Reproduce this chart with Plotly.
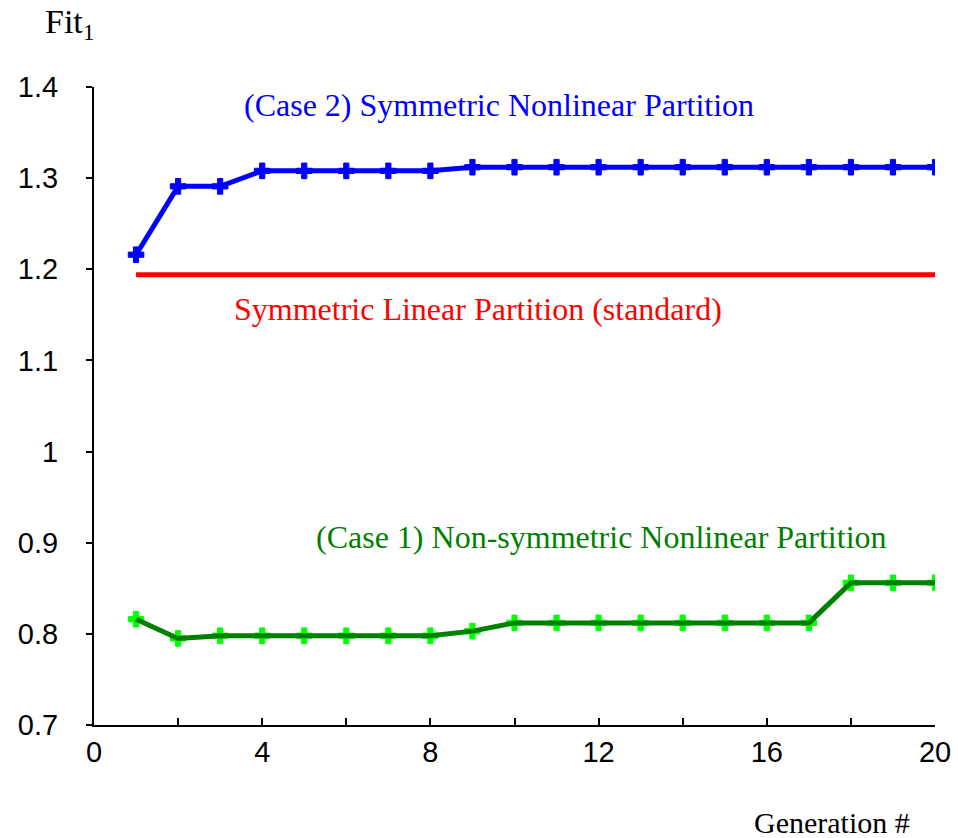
import plotly.graph_objects as go

generations = list(range(1, 21))
case2_sym_nonlinear = [1.216, 1.291, 1.291, 1.308, 1.308, 1.308, 1.308, 1.308, 1.312, 1.312,
                       1.312, 1.312, 1.312, 1.312, 1.312, 1.312, 1.312, 1.312, 1.312, 1.312]
sym_linear_x = [1, 20]
sym_linear_y = [1.194, 1.194]
case1_nonsym_nonlinear = [0.816, 0.795, 0.798, 0.798, 0.798, 0.798, 0.798, 0.798, 0.803, 0.812,
                          0.812, 0.812, 0.812, 0.812, 0.812, 0.812, 0.812, 0.856, 0.856, 0.856]

fig = go.Figure()
fig.add_trace(go.Scatter(x=generations, y=case2_sym_nonlinear, mode="lines+markers",
                         line=dict(color="#0000ff", width=5),
                         marker=dict(symbol="cross", size=13, color="#0000ff",
                                     line=dict(width=1, color="#0000ff"))))
fig.add_trace(go.Scatter(x=sym_linear_x, y=sym_linear_y, mode="lines",
                         line=dict(color="#ff0000", width=5)))
fig.add_trace(go.Scatter(x=generations, y=case1_nonsym_nonlinear, mode="markers",
                         marker=dict(symbol="cross", size=13, color="#00ff00",
                                     line=dict(width=1, color="#00ff00"))))
fig.add_trace(go.Scatter(x=generations, y=case1_nonsym_nonlinear, mode="lines",
                         line=dict(color="#008000", width=5)))

serif = "Liberation Serif, Times New Roman, serif"
ann = [
    dict(x=9.63, y=1.380, xref="x", yref="y", text="(Case 2) Symmetric Nonlinear Partition",
         font=dict(family=serif, size=32, color="#0000ff")),
    dict(x=9.13, y=1.156, xref="x", yref="y", text="Symmetric Linear Partition (standard)",
         font=dict(family=serif, size=32, color="#ff0000")),
    dict(x=12.08, y=0.906, xref="x", yref="y", text="(Case 1) Non-symmetric Nonlinear Partition",
         font=dict(family=serif, size=32, color="#008000")),
    dict(x=832, y=822, xref="paper", yref="paper", text="Generation #",
         font=dict(family=serif, size=30, color="#000000")),
    dict(x=70, y=24, xref="paper", yref="paper", text="Fit<sub>1</sub>",
         font=dict(family=serif, size=34, color="#000000")),
]
# convert pixel positions for paper-ref annotations
L, R, T, B = 94, 23, 87, 113
W, H = 958, 838
pw, ph = W - L - R, H - T - B
for a in ann:
    if a["xref"] == "paper":
        a["x"] = (a["x"] - L) / pw
        a["y"] = 1 - (a["y"] - T) / ph
    a["showarrow"] = False
    a["xanchor"] = "center"
    a["yanchor"] = "middle"

fig.update_layout(
    width=W, height=H,
    margin=dict(l=L, r=R, t=T, b=B, autoexpand=False),
    paper_bgcolor="white", plot_bgcolor="white",
    showlegend=False,
    annotations=ann,
    font=dict(family="Liberation Sans, Arial, sans-serif", size=30, color="black"),
    xaxis=dict(range=[0, 20], tickmode="linear", tick0=0, dtick=4, automargin=False,
               ticks="inside", ticklen=7, tickwidth=2, tickcolor="black",
               showline=True, linecolor="black", linewidth=2,
               showgrid=False, zeroline=False, ticklabelstandoff=0,
               minor=dict(ticks="inside", dtick=2, tick0=0, ticklen=7, tickwidth=2, tickcolor="black"),
               tickfont=dict(size=29)),
    yaxis=dict(range=[0.7, 1.4], tickmode="linear", tick0=0.7, dtick=0.1, automargin=False,
               ticks="outside", ticklen=6, tickwidth=2, tickcolor="black",
               showline=True, linecolor="black", linewidth=2,
               showgrid=False, zeroline=False, ticklabelstandoff=22,
               tickfont=dict(size=29)),
)
fig.write_html("out.html")
